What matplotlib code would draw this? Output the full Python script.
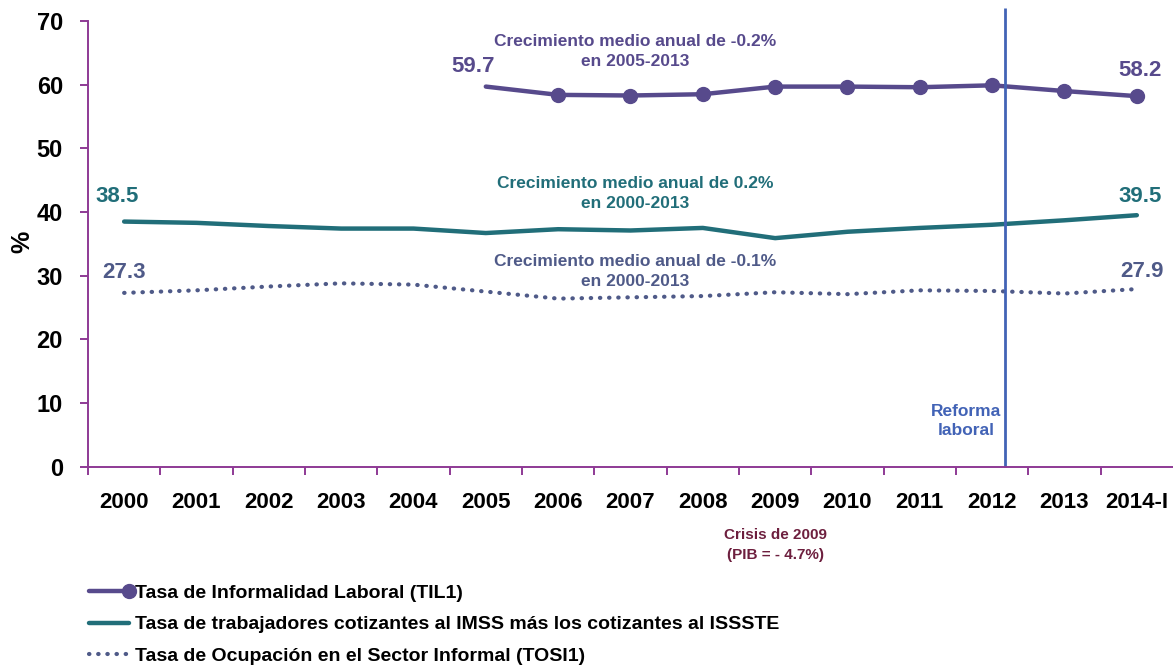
import numpy as np
import matplotlib.pyplot as plt
from matplotlib import font_manager
from matplotlib.legend_handler import HandlerLine2D

# pick a condensed bold face if one is available
installed = {f.name for f in font_manager.fontManager.ttflist}
for fam in ['Liberation Sans Narrow', 'DejaVu Sans Condensed', 'Liberation Sans', 'DejaVu Sans']:
    if fam in installed:
        FONT = fam
        break
plt.rcParams['font.family'] = [FONT, 'DejaVu Sans']
plt.rcParams['font.weight'] = 'bold'

years = ['2000', '2001', '2002', '2003', '2004', '2005', '2006', '2007',
         '2008', '2009', '2010', '2011', '2012', '2013', '2014-I']

# Tasa de Informalidad Laboral (TIL1), 2005 onwards
til1 = [59.7, 58.4, 58.3, 58.5, 59.7, 59.7, 59.6, 59.9, 59.0, 58.2]
# Cotizantes IMSS + ISSSTE
cotizantes = [38.5, 38.3, 37.8, 37.4, 37.4, 36.7, 37.3, 37.1, 37.5, 35.9,
              36.9, 37.5, 38.0, 38.7, 39.5]
# Tasa de Ocupación en el Sector Informal (TOSI1)
tosi1 = [27.3, 27.7, 28.3, 28.8, 28.6, 27.5, 26.4, 26.6, 26.8, 27.4,
         27.1, 27.7, 27.6, 27.2, 27.9]

PURPLE = '#574a8c'
TEAL = '#216e79'
SLATE = '#4f5a88'
BLUE = '#4263b6'
AXIS = '#8e3a95'
MAROON = '#6d1f3e'


class EndMarkerHandler(HandlerLine2D):
    """Legend line with its marker at the right end."""
    def create_artists(self, *args, **kwargs):
        arts = super().create_artists(*args, **kwargs)
        n = len(arts[0].get_xdata())
        arts[0].set_markevery([n - 1])
        return arts


fig = plt.figure(figsize=(11.73, 6.67), dpi=100)
ax = fig.add_axes([0.075, 0.3003, 0.925, 0.6682])

x = np.arange(len(years))
x_til = x[len(years) - len(til1):]

l1, = ax.plot(x_til, til1, color=PURPLE, lw=3.2, marker='o', ms=10,
              markevery=list(range(1, len(til1))), solid_capstyle='round')
l2, = ax.plot(x, cotizantes, color=TEAL, lw=3.2, solid_capstyle='round')
l3, = ax.plot(x, tosi1, color=SLATE, lw=3.0, linestyle=(0, (0.1, 2.1)),
              dash_capstyle='round')

ax.set_xlim(-0.5, len(years) - 0.5)
ax.set_ylim(0, 70)
ax.set_yticks(range(0, 71, 10))
ax.set_xticks(x)
ax.set_xticklabels(years)
ax.set_xticks(np.arange(-0.5, len(years) - 0.5, 1), minor=True)

for side in ['top', 'right']:
    ax.spines[side].set_visible(False)
for side in ['left', 'bottom']:
    ax.spines[side].set_color(AXIS)
    ax.spines[side].set_linewidth(1.4)

ax.tick_params(axis='y', colors=AXIS, labelcolor='black', length=6, width=1.4,
               pad=12, labelsize=17)
ax.tick_params(axis='x', which='major', length=0, pad=18, labelsize=16,
               labelcolor='black')
ax.tick_params(axis='x', which='minor', colors=AXIS, length=6, width=1.4)

# Reforma laboral marker
reforma_x = 12.18
ax.vlines(reforma_x, 0, 72, color=BLUE, lw=2.0, clip_on=False)
ax.text(11.64, 7.2, 'Reforma\nlaboral', color=BLUE, fontsize=12.5,
        ha='center', va='center', linespacing=1.35)

# end-point labels
num = dict(fontsize=16, ha='center', va='center')
ax.text(x_til[0] - 0.18, til1[0] + 3.1, f'{til1[0]:.1f}', color=PURPLE, **num)
ax.text(x_til[-1] + 0.04, til1[-1] + 4.1, f'{til1[-1]:.1f}', color=PURPLE, **num)
ax.text(x[0] - 0.1, cotizantes[0] + 3.9, f'{cotizantes[0]:.1f}', color=TEAL, **num)
ax.text(x[-1] + 0.05, cotizantes[-1] + 2.9, f'{cotizantes[-1]:.1f}', color=TEAL, **num)
ax.text(x[0] + 0.0, tosi1[0] + 3.2, f'{tosi1[0]:.1f}', color=SLATE, **num)
ax.text(x[-1] + 0.07, tosi1[-1] + 2.7, f'{tosi1[-1]:.1f}', color=SLATE, **num)

# growth notes
note = dict(fontsize=12.5, ha='center', va='center', linespacing=1.4)
ax.text(7.06, 65.2, 'Crecimiento medio anual de -0.2%\nen 2005-2013', color=PURPLE, **note)
ax.text(7.06, 42.9, 'Crecimiento medio anual de 0.2%\nen 2000-2013', color=TEAL, **note)
ax.text(7.06, 30.6, 'Crecimiento medio anual de -0.1%\nen 2000-2013', color=SLATE, **note)

ax.text(9, -12.3, 'Crisis de 2009\n(PIB = - 4.7%)', color=MAROON, fontsize=11,
        ha='center', va='center', linespacing=1.5)

fig.text(22 / 1173, 1 - 242 / 667, '%', rotation=90, fontsize=18,
         ha='center', va='center')

leg = fig.legend([l1, l2, l3],
                 ['Tasa de Informalidad Laboral (TIL1)',
                  'Tasa de trabajadores cotizantes al IMSS más los cotizantes al ISSSTE',
                  'Tasa de Ocupación en el Sector Informal (TOSI1)'],
                 loc='upper left', bbox_to_anchor=(71 / 1173, 1 - 567 / 667),
                 frameon=False, fontsize=14, handlelength=2.1,
                 handletextpad=0.3, labelspacing=0.7, numpoints=1,
                 handler_map={l1: EndMarkerHandler()})

fig.savefig('out.png', dpi=100)
